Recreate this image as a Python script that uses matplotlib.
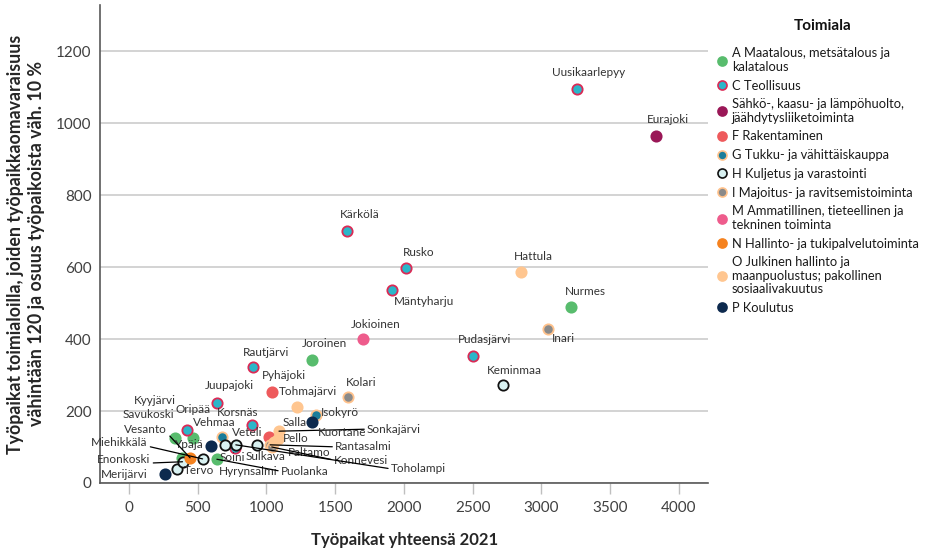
import numpy as np
import matplotlib.pyplot as plt
from matplotlib.lines import Line2D

plt.rcParams['font.family'] = ['Lato', 'DejaVu Sans']

# Kunnat: työpaikat yhteensä 2021 (x) ja työpaikat omavaraisilla toimialoilla (y)
kunnat = ["Uusikaarlepyy", "Eurajoki", "Kärkölä", "Rusko", "Mäntyharju", "Hattula",
          "Nurmes", "Inari", "Jokioinen", "Pudasjärvi", "Keminmaa", "Kolari",
          "Joroinen", "Rautjärvi", "Pyhäjoki", "Tohmajärvi", "Juupajoki",
          "Isokyrö", "Salla", "Korsnäs", "Kyyjärvi", "Savukoski", "Oripää",
          "Vehmaa", "Ypäjä", "Tervo", "Merijärvi", "Pello", "Sonkajärvi",
          "Kuortane", "Paltamo", "Rantasalmi", "Konnevesi", "Soini", "Toholampi",
          "Veteli", "Sulkava", "Hyrynsalmi", "Vesanto", "Enonkoski", "Miehikkälä",
          "Puolanka"]
tyopaikat = [3256, 3837, 1584, 2015, 1911, 2854,
             3217, 3045, 1706, 2500, 2720, 1597,
             1335, 904, 1044, 1221, 640,
             1359, 1335, 899, 422, 334, 470,
             676, 596, 349, 262, 1020, 1092,
             1081, 1056, 1027, 1039, 698, 778,
             770, 935, 383, 445, 390, 536,
             640]
omavarainen = [1094, 964, 700, 596, 536, 585,
               488, 428, 400, 354, 271, 238,
               342, 322, 253, 212, 223,
               190, 170, 161, 147, 126, 126,
               129, 103, 38, 24, 129, 144,
               122, 115, 106, 100, 106, 106,
               96, 106, 70, 70, 59, 67,
               66]
toimiala = ["C", "D", "C", "C", "C", "O",
            "A", "I", "M", "C", "H", "I",
            "A", "C", "F", "O", "C",
            "G", "P", "C", "C", "A", "A",
            "G", "P", "H", "P", "F", "O",
            "O", "O", "I", "I", "H", "H",
            "C", "H", "A", "N", "H", "H",
            "A"]

# Toimialat legendaa varten
koodit = ["A", "C", "D", "F", "G", "H", "I", "M", "N", "O", "P"]
nimet = ["A Maatalous, metsätalous ja\nkalatalous",
         "C Teollisuus",
         "Sähkö-, kaasu- ja lämpöhuolto,\njäähdytysliiketoiminta",
         "F Rakentaminen",
         "G Tukku- ja vähittäiskauppa",
         "H Kuljetus ja varastointi",
         "I Majoitus- ja ravitsemistoiminta",
         "M Ammatillinen, tieteellinen ja\ntekninen toiminta",
         "N Hallinto- ja tukipalvelutoiminta",
         "O Julkinen hallinto ja\nmaanpuolustus; pakollinen\nsosiaalivakuutus",
         "P Koulutus"]

# Värit: (täyttö, reuna)
tyylit = {
    "A": ("#58BC6D", "#58BC6D"),
    "C": ("#2BB6C9", "#DB2A55"),
    "D": ("#9A1757", "#9A1757"),
    "F": ("#EE5A5C", "#EE5A5C"),
    "G": ("#1B7D9A", "#FFC28C"),
    "H": ("#D8F1F1", "#111111"),
    "I": ("#8A8A8A", "#FFC28C"),
    "M": ("#EE5C8C", "#EE5C8C"),
    "N": ("#F5821F", "#F5821F"),
    "O": ("#FFC690", "#FFC690"),
    "P": ("#0D2A4E", "#0D2A4E"),
}

# Nimiöiden siirrot pikseleinä (dx, dy)
siirrot = {
    "Uusikaarlepyy": (12, 17), "Eurajoki": (12, 16), "Kärkölä": (13, 17),
    "Rusko": (13, 16), "Mäntyharju": (32, -11), "Hattula": (12, 16),
    "Nurmes": (14, 16), "Inari": (16, -10), "Jokioinen": (12, 15),
    "Pudasjärvi": (12, 16), "Keminmaa": (12, 15), "Kolari": (13, 15),
    "Joroinen": (12, 16), "Rautjärvi": (13, 15), "Pyhäjoki": (12, 16),
    "Tohmajärvi": (11, 15), "Juupajoki": (13, 17), "Isokyrö": (24, 2),
    "Salla": (-18, -1), "Korsnäs": (-15, 13), "Kyyjärvi": (-32, 30),
    "Savukoski": (-26, 23), "Oripää": (0, 28), "Vehmaa": (-8, 14),
    "Ypäjä": (-21, 1), "Tervo": (22, -1), "Merijärvi": (-41, 0),
    "Pello": (27, -2), "Kuortane": (65, 7), "Paltamo": (35, -11),
    "Soini": (8, -13), "Veteli": (12, 16), "Sulkava": (8, -12),
    "Hyrynsalmi": (67, -14),
}
# johtoviivalliset nimiöt: (dx, dy, tasaus)
viivat = {
    "Sonkajärvi": (88, 2, "left"), "Rantasalmi": (65, -2, "left"),
    "Konnevesi": (62, -13, "left"), "Toholampi": (155, -24, "left"),
    "Puolanka": (64, -12, "left"), "Vesanto": (-23, 28, "right"),
    "Miehikkälä": (-55, 16, "right"), "Enonkoski": (-32, 2, "right"),
}

fig, ax = plt.subplots(figsize=(9.26, 5.52), dpi=100)
fig.subplots_adjust(left=0.108, right=0.765, bottom=0.125, top=0.991)

for k in koodit:
    idx = [i for i, t in enumerate(toimiala) if t == k]
    if not idx:
        continue
    fc, ec = tyylit[k]
    ax.scatter([tyopaikat[i] for i in idx], [omavarainen[i] for i in idx],
               s=55, facecolor=fc, edgecolor=ec, linewidth=1.3, zorder=3)

for i, nimi in enumerate(kunnat):
    xy = (tyopaikat[i], omavarainen[i])
    if nimi in siirrot:
        dx, dy = siirrot[nimi]
        ax.annotate(nimi, xy, xytext=(dx, dy), textcoords="offset pixels",
                    ha="center", va="center", fontsize=8.5, color="#333333", zorder=4)
    else:
        dx, dy, ha = viivat[nimi]
        rel = (0, 0.5) if ha == "left" else (1, 0.2)
        ax.annotate(nimi, xy, xytext=(dx, dy), textcoords="offset pixels",
                    ha=ha, va="center", fontsize=8.5, color="#333333", zorder=4,
                    arrowprops=dict(arrowstyle="-", color="black", lw=0.9,
                                    shrinkA=0, shrinkB=0, relpos=rel))

ax.set_xlim(-210, 4215)
ax.set_ylim(0, 1328)
ax.set_xticks(np.arange(0, 4001, 500))
ax.set_yticks(np.arange(0, 1201, 200))
ax.grid(axis="y", color="#CCCCCC", lw=1.2, zorder=0)
ax.set_axisbelow(True)
for s in ["top", "right"]:
    ax.spines[s].set_visible(False)
for s in ["left", "bottom"]:
    ax.spines[s].set_color("#595959")
    ax.spines[s].set_linewidth(1.2)
ax.tick_params(axis="y", length=0, pad=6, labelsize=11, labelcolor="#404040")
ax.tick_params(axis="x", length=8, color="#BFBFBF", width=1, pad=5,
               labelsize=11, labelcolor="#404040")

ax.set_xlabel("Työpaikat yhteensä 2021", fontsize=12, fontweight="bold",
              color="#262626", labelpad=12)
ax.set_ylabel("Työpaikat toimialoilla, joiden työpaikkaomavaraisuus\n"
              "vähintään 120 ja osuus työpaikoista väh. 10 %",
              fontsize=12.8, fontweight="bold", color="#262626", labelpad=8,
              linespacing=1.3)

kahvat = [Line2D([], [], marker="o", linestyle="", markersize=6.5,
                 markerfacecolor=tyylit[k][0], markeredgecolor=tyylit[k][1],
                 markeredgewidth=1.2) for k in koodit]
leg = fig.legend(kahvat, nimet, loc="upper left", bbox_to_anchor=(0.766, 0.926),
                 frameon=False, fontsize=9.3, handlelength=0.9, handletextpad=0.35,
                 labelspacing=0.52, borderpad=0, labelcolor="#1a1a1a")
for t in leg.get_texts():
    t.set_linespacing(1.15)
fig.text(823 / 926, 1 - 26 / 552, "Toimiala", fontsize=11, fontweight="bold",
         ha="center", va="center", color="#111111")

fig.savefig("out.png", dpi=100)
